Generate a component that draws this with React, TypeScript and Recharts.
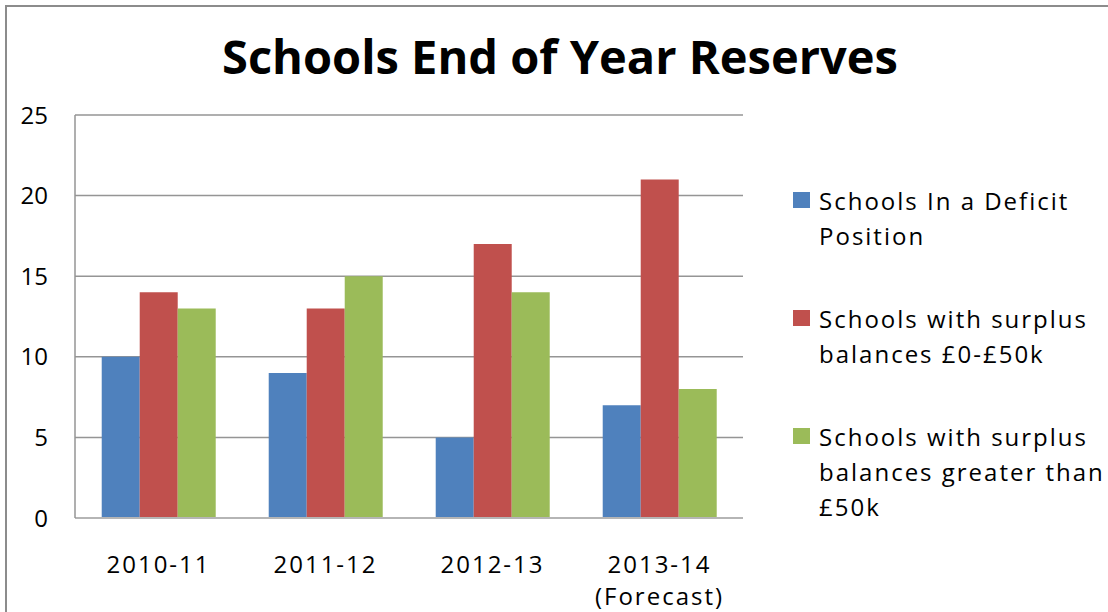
import { BarChart, Bar, XAxis, YAxis, CartesianGrid, Legend } from 'recharts';

const categories = ['2010-11', '2011-12', '2012-13', '2013-14 (Forecast)'];
const deficit = [10, 9, 5, 7];
const surplusSmall = [14, 13, 17, 21];
const surplusLarge = [13, 15, 14, 8];
const yTicks = [0, 5, 10, 15, 20, 25];

const seriesKeys = ['deficit', 'surplusSmall', 'surplusLarge'];
const seriesNames = [
  'Schools In a Deficit Position',
  'Schools with surplus balances £0-£50k',
  'Schools with surplus balances greater than £50k',
];
// how the legend labels wrap in the original
const legendLines = [
  ['Schools In a Deficit', 'Position'],
  ['Schools with surplus', 'balances £0-£50k'],
  ['Schools with surplus', 'balances greater than', '£50k'],
];
const colors = ['#4F81BD', '#C0504D', '#9BBB59'];

const data = categories.map((category, i) => ({
  category,
  deficit: deficit[i],
  surplusSmall: surplusSmall[i],
  surplusLarge: surplusLarge[i],
}));

const FONT = '"Open Sans", sans-serif';

const CategoryTick = ({ x, y, payload }: any) => {
  const lines = String(payload.value).split(' ');
  return (
    <text x={x} y={y} textAnchor="middle" fontFamily={FONT} fontSize={24} fill="#000" letterSpacing={2}>
      {lines.map((line, i) => (
        <tspan key={i} x={x} dy={i === 0 ? 53 : 32}>
          {line}
        </tspan>
      ))}
    </text>
  );
};

// keep the series order of the original legend (recharts sorts by name otherwise)
const LegendContent = () => (
  <div style={{ fontFamily: FONT, fontSize: 24, lineHeight: '35px', color: '#000', letterSpacing: 2 }}>
    {seriesKeys.map((key, i) => (
      <div key={key} style={{ display: 'flex', alignItems: 'flex-start', marginBottom: 48 }}>
        <div style={{ width: 17, height: 16, marginTop: 9, marginRight: 9, background: colors[i], flexShrink: 0 }} />
        <div>
          {legendLines[i].map((line, j) => (
            <div key={j} style={{ whiteSpace: 'nowrap' }}>{line}</div>
          ))}
        </div>
      </div>
    ))}
  </div>
);

export default function App() {
  return (
    <div style={{ position: 'absolute', left: 0, top: 0, width: 1108, height: 612, background: '#fff', overflow: 'hidden' }}>
      <div
        style={{
          position: 'absolute',
          left: 5,
          top: 5,
          width: 1120,
          height: 620,
          borderTop: '2px solid #8c8c8c',
          borderLeft: '2px solid #8c8c8c',
        }}
      />
      <div
        style={{
          position: 'absolute',
          left: 0,
          width: 1120,
          top: 24,
          textAlign: 'center',
          fontFamily: FONT,
          fontWeight: 700,
          fontSize: 47,
          color: '#000',
        }}
      >
        Schools End of Year Reserves
      </div>
      <div style={{ position: 'absolute', left: 0, top: 0 }}>
        <BarChart
          width={1108}
          height={612}
          data={data}
          margin={{ top: 115, right: 365, bottom: 0, left: 0 }}
          barCategoryGap="16%"
          barGap={0}
        >
          <CartesianGrid vertical={false} stroke="#959595" strokeWidth={1.5} />
          <XAxis
            dataKey="category"
            height={94}
            tickLine={false}
            tickSize={0}
            axisLine={{ stroke: '#b5b5b5', strokeWidth: 2 }}
            tick={<CategoryTick />}
            interval={0}
          />
          <YAxis
            width={75}
            domain={[0, 25]}
            ticks={yTicks}
            tickLine={false}
            tickSize={0}
            tickMargin={27}
            axisLine={{ stroke: '#959595', strokeWidth: 1.5 }}
            tick={{ fontFamily: FONT, fontSize: 24, fill: '#000' }}
          />
          <Legend
            layout="vertical"
            align="center"
            verticalAlign="middle"
            content={<LegendContent />}
            wrapperStyle={{ left: 793, top: 183, width: 315, height: 'auto' }}
          />
          <Bar dataKey={seriesKeys[0]} name={seriesNames[0]} fill={colors[0]} isAnimationActive={false} />
          <Bar dataKey={seriesKeys[1]} name={seriesNames[1]} fill={colors[1]} isAnimationActive={false} />
          <Bar dataKey={seriesKeys[2]} name={seriesNames[2]} fill={colors[2]} isAnimationActive={false} />
        </BarChart>
      </div>
    </div>
  );
}
